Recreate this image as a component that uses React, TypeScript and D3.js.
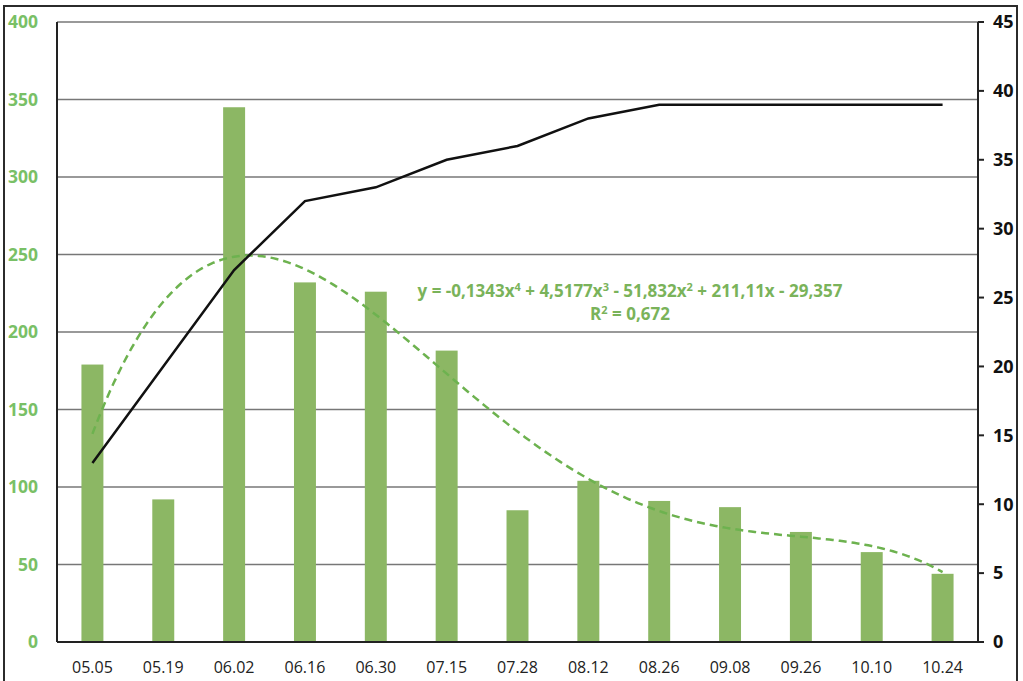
import React from "react";
import * as d3 from "d3";

const categories = ["05.05","05.19","06.02","06.16","06.30","07.15","07.28","08.12","08.26","09.08","09.26","10.10","10.24"];
const barValues = [179, 92, 345, 232, 226, 188, 85, 104, 91, 87, 71, 58, 44];
const lineValues = [13, 20, 27, 32, 33, 35, 36, 38, 39, 39, 39, 39, 39];
// trendline coefficients as printed on the chart (x^4, x^3, x^2, x, const)
const trendCoefficients = [-0.1343, 4.5177, -51.832, 211.11, -29.357];
const leftTicks = [0, 50, 100, 150, 200, 250, 300, 350, 400];
const rightTicks = [0, 5, 10, 15, 20, 25, 30, 35, 40, 45];

const W = 1023, H = 681;
const L = 57, R = 978, T = 22, B = 642;
const green = "#8cb764";
const labelGreen = "#79c066";
const trendGreen = "#6db24f";
const font = "'Open Sans', 'Liberation Sans', sans-serif";

export default function App() {
  const x = d3.scaleBand<string>().domain(categories).range([L, R]).paddingInner(0.69).paddingOuter(0.345);
  const xc = (i: number) => (x(categories[i]) as number) + x.bandwidth() / 2;
  const yL = d3.scaleLinear().domain([0, 400]).range([B, T]);
  const yR = d3.scaleLinear().domain([0, 45]).range([B, T]);
  const xIdx = d3.scaleLinear().domain([1, categories.length]).range([xc(0), xc(categories.length - 1)]);

  const linePath = d3.line<number>().x((_, i) => xc(i)).y(d => yR(d))(lineValues) as string;

  const trendPts: [number, number][] = d3.range(1, 13.001, 0.05).map(t => {
    const v = trendCoefficients.reduce((acc, c) => acc * t + c, 0);
    return [xIdx(t), yL(v)];
  });
  const trendPath = d3.line().curve(d3.curveLinear)(trendPts) as string;

  return (
    <svg width={W} height={H} style={{ position: "absolute", left: 0, top: 0, background: "#fff" }} fontFamily={font}>
      <rect x={4} y={6} width={1013} height={700} fill="#fff" stroke="#2b2b2b" strokeWidth={2} />
      {leftTicks.filter(t => t > 0).map(t => (
        <line key={t} x1={L} x2={R} y1={yL(t)} y2={yL(t)} stroke="#777" strokeWidth={1.3} />
      ))}
      {barValues.map((v, i) => (
        <rect key={i} x={x(categories[i])} y={yL(v)} width={x.bandwidth()} height={B - yL(v)} fill={green} />
      ))}
      <path d={trendPath} fill="none" stroke={trendGreen} strokeWidth={2.5} strokeDasharray="8,5" />
      <path d={linePath} fill="none" stroke="#111" strokeWidth={2.5} />
      {/* axes */}
      <line x1={L} x2={L} y1={T} y2={B} stroke="#222" strokeWidth={2} />
      <line x1={R} x2={R} y1={T} y2={B} stroke="#222" strokeWidth={2} />
      <line x1={L} x2={R} y1={B} y2={B} stroke="#222" strokeWidth={2} />
      {rightTicks.map(t => (
        <line key={t} x1={R} x2={R + 6} y1={yR(t)} y2={yR(t)} stroke="#222" strokeWidth={2} />
      ))}
      {leftTicks.map(t => (
        <text key={t} x={38} y={yL(t)} dy="0.35em" textAnchor="end" fill={labelGreen} fontWeight="bold" fontSize={17.5}>{t}</text>
      ))}
      {rightTicks.map(t => (
        <text key={t} x={993} y={yR(t)} dy="0.35em" textAnchor="start" fill="#111" fontWeight="bold" fontSize={18}>{t}</text>
      ))}
      {categories.map((c, i) => (
        <text key={c} x={xc(i)} y={673} textAnchor="middle" fill="#222" fontSize={16}>{c}</text>
      ))}
      <text x={630} y={297} textAnchor="middle" fill="#7ab35a" fontWeight="bold" fontSize={17}>
        y = -0,1343x<tspan dy="-6" fontSize={11}>4</tspan><tspan dy="6"> + 4,5177x</tspan><tspan dy="-6" fontSize={11}>3</tspan><tspan dy="6"> - 51,832x</tspan><tspan dy="-6" fontSize={11}>2</tspan><tspan dy="6"> + 211,11x - 29,357</tspan>
      </text>
      <text x={630} y={320} textAnchor="middle" fill="#7ab35a" fontWeight="bold" fontSize={17}>
        R<tspan dy="-6" fontSize={11}>2</tspan><tspan dy="6"> = 0,672</tspan>
      </text>
    </svg>
  );
}
